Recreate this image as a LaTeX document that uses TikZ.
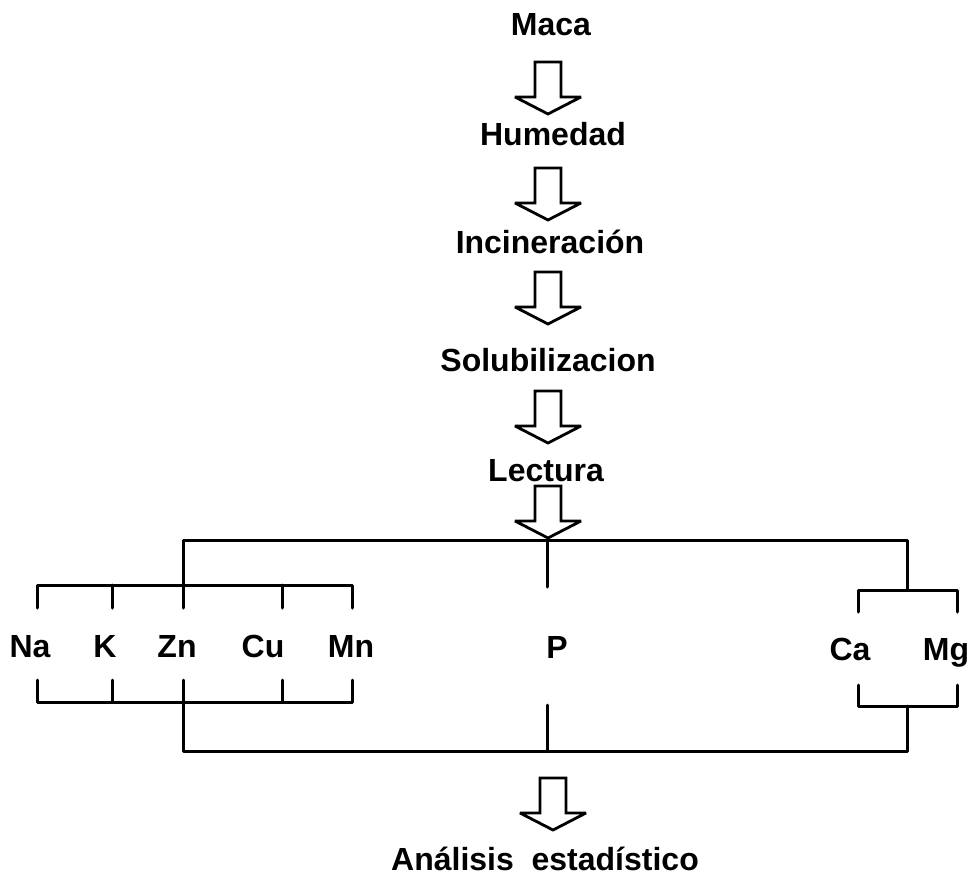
\documentclass[tikz,border=0pt]{standalone}
\usepackage{fontspec}
\setmainfont{Liberation Sans}
\begin{document}
\begin{tikzpicture}[x=1pt,y=-1pt,
  lbl/.style={font=\fontsize{32}{38}\selectfont\bfseries, anchor=base, inner sep=0pt},
  ln/.style={line width=3pt, line cap=round, line join=round},
  flow/.style={line width=2.8pt, fill=white, line join=miter, miter limit=4},
  blockarrow/.pic={
    \draw[flow] (-13,0) -- (13,0) -- (13,35) -- (33,35) -- (0,52)
      -- (-33,35) -- (-13,35) -- cycle;
  }]
\useasboundingbox (0,0) rectangle (971,880);

% process steps
\node[lbl] (maca) at (551,36)  {Maca};
\node[lbl] (hum)  at (553,145) {Humedad};
\node[lbl] (inc)  at (550,253) {Incineración};
\node[lbl] (sol)  at (548,371) {Solubilizacion};
\node[lbl] (lec)  at (546,481) {Lectura};
\node[lbl] (ana)  at (545,870) {Análisis~~estadístico};

% hollow arrows between steps
\pic at (548,62)  {blockarrow};
\pic at (548,168) {blockarrow};
\pic at (548,272) {blockarrow};
\pic at (548,391) {blockarrow};
\pic at (548,486) {blockarrow};
\pic at (553,778) {blockarrow};

% elements
\node[lbl] (na) at (30,657)  {Na};
\node[lbl] (k)  at (105,657) {K};
\node[lbl] (zn) at (177,657) {Zn};
\node[lbl] (cu) at (263,657) {Cu};
\node[lbl] (mn) at (351,657) {Mn};
\node[lbl] (p)  at (557,658) {P};
\node[lbl] (ca) at (850,660) {Ca};
\node[lbl] (mg) at (946,660) {Mg};

% distribution bar
\coordinate (split) at (547,540);
\coordinate (left)  at (183,540);
\coordinate (right) at (907,540);
\draw[ln] (183,585) -- (left) -- (right) -- (907,590);
\draw[ln] (split) -- (547,587);

% upper bracket over Na ... Mn
\draw[ln] (37,608) -- (37,585) -- (352,585) -- (352,608);
\foreach \x in {112,183,282} \draw[ln] (\x,585) -- (\x,608);
% lower bracket under Na ... Mn
\draw[ln] (37,680) -- (37,702) -- (352,702) -- (352,680);
\foreach \x in {112,183,282} \draw[ln] (\x,680) -- (\x,702);

% brackets around Ca, Mg
\draw[ln] (858,612) -- (858,590) -- (957,590) -- (957,612);
\draw[ln] (858,685) -- (858,706) -- (957,706) -- (957,685);

% collecting bar
\coordinate (cl) at (183,751);
\coordinate (cr) at (907,751);
\draw[ln] (183,702) -- (cl) -- (cr) -- (907,706);
\draw[ln] (547,705) -- (547,751);
\end{tikzpicture}
\end{document}
